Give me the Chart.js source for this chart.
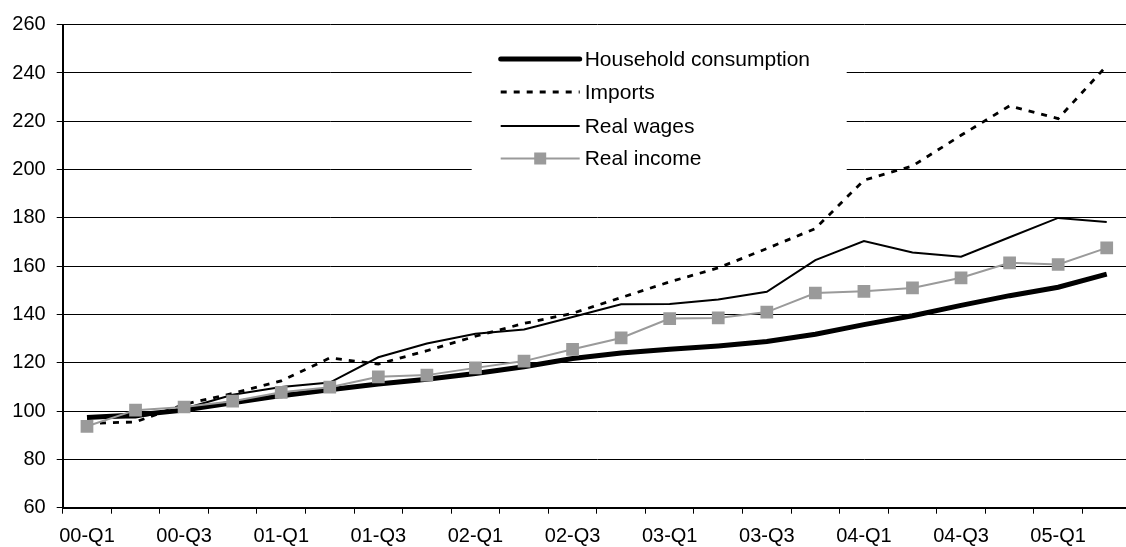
<!DOCTYPE html>
<html>
<head>
<meta charset="utf-8">
<script src="https://cdn.jsdelivr.net/npm/chart.js@4/dist/chart.umd.min.js"></script>
<style>
  html, body { margin: 0; padding: 0; background: #fff; }
  #wrap { width: 1126px; height: 547px; overflow: hidden; position: relative; }
  #chart { display: block; }
</style>
</head>
<body>
<div id="wrap"><canvas id="chart" width="1140" height="547"></canvas></div>
<script>
// ==========================================================================
// Data
// ==========================================================================
var quarters = [
  "00-Q1", "00-Q2", "00-Q3", "00-Q4", "01-Q1", "01-Q2", "01-Q3", "01-Q4",
  "02-Q1", "02-Q2", "02-Q3", "02-Q4", "03-Q1", "03-Q2", "03-Q3", "03-Q4",
  "04-Q1", "04-Q2", "04-Q3", "04-Q4", "05-Q1", "05-Q2"
];
var seriesNames = ["Household consumption", "Imports", "Real wages", "Real income"];

var household = [97.3, 98.4, 100.4, 103.4, 106.4, 108.8, 111.2, 113.2, 115.6, 118.4, 121.8,
  124.1, 125.6, 127.0, 128.8, 131.8, 135.8, 139.5, 143.8, 147.8, 151.3, 156.7];
var imports = [94.9, 95.5, 102.8, 107.3, 112.5, 122.0, 119.5, 125.0, 131.0, 136.3, 140.5,
  147.0, 153.5, 159.3, 167.3, 175.6, 195.6, 201.5, 214.2, 226.4, 221.1, 243.0];
var realWages = [97.2, 97.3, 101.0, 106.8, 110.0, 111.8, 122.3, 128.0, 132.0, 133.8, 139.0,
  144.2, 144.3, 146.2, 149.4, 162.5, 170.4, 165.7, 163.9, 172.0, 180.0, 178.3];
var realIncome = [93.7, 100.4, 101.7, 104.1, 107.8, 109.9, 114.2, 114.9, 117.9, 120.7, 125.6,
  130.3, 138.3, 138.6, 141.0, 148.9, 149.6, 151.0, 155.2, 161.4, 160.7, 167.6];

var yMin = 60, yMax = 260, yStep = 20;

var FONT = "'Liberation Sans', Arial, sans-serif";
var GREY = "#9a9a9a";

// ==========================================================================
// Legend drawn inside the plot on a white box
// ==========================================================================
var boxLegend = {
  id: "boxLegend",
  afterDatasetsDraw: function (chart) {
    var ctx = chart.ctx;
    var a = chart.chartArea;
    var left = a.left + 409;
    ctx.save();
    ctx.fillStyle = "#fff";
    ctx.fillRect(left, 36, 375, 150);

    var rows = [59, 92, 126, 158.5];
    chart.data.datasets.forEach(function (ds, i) {
      var y = rows[i];
      var x0 = a.left + 438, x1 = a.left + 517;
      ctx.beginPath();
      ctx.strokeStyle = ds.borderColor;
      ctx.lineWidth = ds.borderWidth;
      ctx.lineCap = i === 0 ? "round" : "butt";
      ctx.setLineDash(ds.borderDash || []);
      ctx.moveTo(x0, y);
      ctx.lineTo(x1, y);
      ctx.stroke();
      ctx.setLineDash([]);
      if (ds.pointRadius > 0) {
        ctx.fillStyle = ds.pointBackgroundColor;
        ctx.fillRect((x0 + x1) / 2 - 6, y - 6, 12, 12);
      }
      ctx.fillStyle = "#000";
      ctx.font = "21px " + FONT;
      ctx.textBaseline = "middle";
      ctx.textAlign = "left";
      ctx.fillText(ds.label, x1 + 5, y + 1);
    });
    ctx.restore();
  }
};

// ==========================================================================
// Chart
// ==========================================================================
var config = {
  type: "line",
  data: {
    labels: quarters,
    datasets: [
      {
        label: seriesNames[0],
        data: household,
        borderColor: "#000",
        borderWidth: 5,
        pointRadius: 0,
        order: 1
      },
      {
        label: seriesNames[1],
        data: imports,
        borderColor: "#000",
        borderWidth: 2.8,
        borderDash: [6, 7],
        pointRadius: 0,
        order: 3
      },
      {
        label: seriesNames[2],
        data: realWages,
        borderColor: "#000",
        borderWidth: 2,
        pointRadius: 0,
        order: 2
      },
      {
        label: seriesNames[3],
        data: realIncome,
        borderColor: GREY,
        borderWidth: 2,
        pointStyle: "rect",
        pointRadius: 9,
        pointBackgroundColor: GREY,
        pointBorderWidth: 0,
        order: 0
      }
    ]
  },
  options: {
    responsive: false,
    animation: false,
    layout: { padding: { top: 24.7, right: 2.4, bottom: 0, left: 0 } },
    plugins: {
      legend: { display: false },
      tooltip: { enabled: false }
    },
    elements: { line: { tension: 0 } },
    scales: {
      x: {
        offset: true,
        afterFit: function (scale) { scale.height = 39.3; },
        grid: {
          offset: true,
          drawOnChartArea: false,
          drawTicks: true,
          tickLength: 6,
          color: "#000",
          lineWidth: 1
        },
        border: { display: true, color: "#000", width: 2 },
        ticks: {
          autoSkip: false,
          maxRotation: 0,
          padding: 11,
          color: "#000",
          font: { family: FONT, size: 20 },
          callback: function (val, i) { return i % 2 === 0 ? quarters[i] : ""; }
        }
      },
      y: {
        min: yMin,
        max: yMax,
        afterFit: function (scale) { scale.width = 62.7; },
        grid: {
          color: "#000",
          lineWidth: 1,
          drawTicks: true,
          tickLength: 6
        },
        border: { display: true, color: "#000", width: 2 },
        ticks: {
          stepSize: yStep,
          padding: 11,
          color: "#000",
          font: { family: FONT, size: 20 }
        }
      }
    }
  },
  plugins: [boxLegend]
};

var myChart = new Chart(document.getElementById("chart"), config);
</script>
</body>
</html>
